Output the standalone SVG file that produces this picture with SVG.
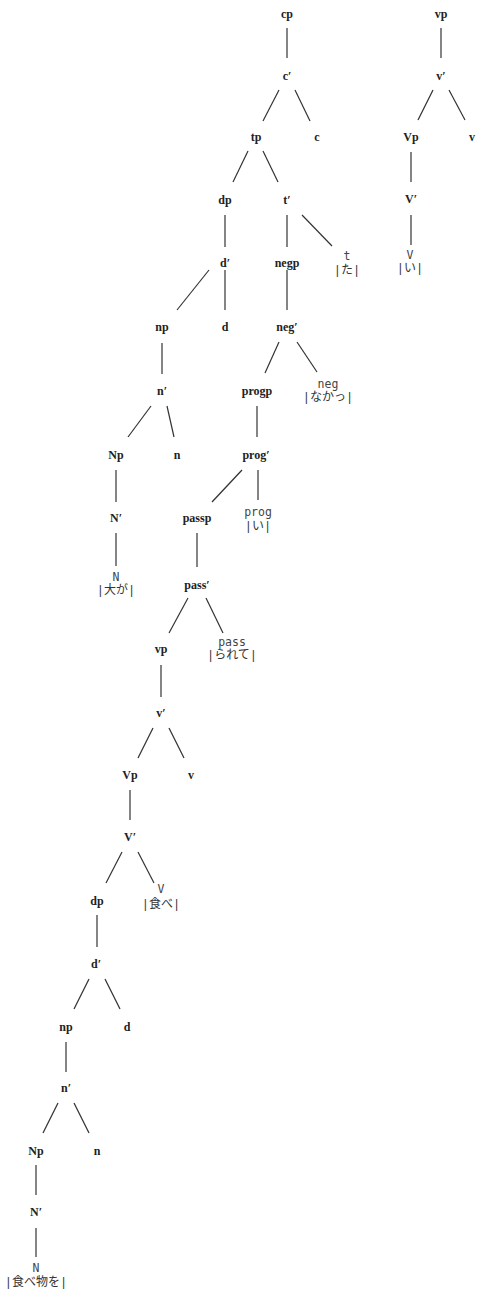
<svg xmlns="http://www.w3.org/2000/svg" width="481" height="1298" viewBox="0 0 481 1298">
<style>
.bg{fill:#ffffff}
.lbl{font-family:"Liberation Serif","Times New Roman",serif;font-size:12px;font-weight:bold;fill:#222;text-anchor:middle}
.lf{font-family:"DejaVu Sans Mono","Liberation Mono",monospace;font-size:11.5px;fill:#444;text-anchor:middle}
.jp{font-family:"Liberation Mono","Noto Sans CJK JP",monospace;font-size:12px;fill:#333;text-anchor:middle}
.edges line{stroke:#333;stroke-width:1.2}
</style>
<rect class="bg" x="0" y="0" width="481" height="1298"/>
<g id="connectors" class="edges">
<line x1="287" y1="28" x2="287" y2="58"/>
<line x1="279" y1="90" x2="263" y2="121"/>
<line x1="295" y1="90" x2="310" y2="121"/>
<line x1="248" y1="151" x2="233" y2="182"/>
<line x1="263" y1="151" x2="278" y2="182"/>
<line x1="225" y1="215" x2="225" y2="247"/>
<line x1="287" y1="215" x2="287" y2="247"/>
<line x1="302" y1="215" x2="332" y2="246"/>
<line x1="209" y1="270" x2="177" y2="310"/>
<line x1="225" y1="270" x2="225" y2="310"/>
<line x1="287" y1="270" x2="287" y2="310"/>
<line x1="162" y1="343" x2="162" y2="374"/>
<line x1="279" y1="342" x2="265" y2="373"/>
<line x1="297" y1="342" x2="317" y2="372"/>
<line x1="151" y1="406" x2="128" y2="437"/>
<line x1="167" y1="406" x2="174" y2="437"/>
<line x1="257" y1="406" x2="257" y2="437"/>
<line x1="242" y1="470" x2="212" y2="502"/>
<line x1="258" y1="470" x2="258" y2="500"/>
<line x1="116" y1="470" x2="116" y2="502"/>
<line x1="116" y1="533" x2="116" y2="566"/>
<line x1="197" y1="533" x2="197" y2="567"/>
<line x1="188" y1="598" x2="169" y2="633"/>
<line x1="206" y1="598" x2="223" y2="633"/>
<line x1="161" y1="665" x2="161" y2="697"/>
<line x1="153" y1="728" x2="138" y2="758"/>
<line x1="169" y1="728" x2="184" y2="758"/>
<line x1="130" y1="790" x2="130" y2="820"/>
<line x1="122" y1="852" x2="106" y2="883"/>
<line x1="138" y1="852" x2="154" y2="883"/>
<line x1="97" y1="915" x2="97" y2="947"/>
<line x1="89" y1="979" x2="74" y2="1009"/>
<line x1="105" y1="979" x2="120" y2="1009"/>
<line x1="66" y1="1042" x2="66" y2="1072"/>
<line x1="58" y1="1103" x2="43" y2="1133"/>
<line x1="74" y1="1103" x2="89" y2="1133"/>
<line x1="36" y1="1165" x2="36" y2="1195"/>
<line x1="36" y1="1228" x2="36" y2="1257"/>
<line x1="441" y1="28" x2="441" y2="58"/>
<line x1="433" y1="90" x2="418" y2="120"/>
<line x1="449" y1="90" x2="465" y2="120"/>
<line x1="411" y1="152" x2="411" y2="182"/>
<line x1="411" y1="215" x2="411" y2="245"/>
</g>
<g id="n_cp"><text class="lbl" x="287" y="18">cp</text></g>
<g id="n_c1"><text class="lbl" x="287" y="80">c′</text></g>
<g id="n_tp"><text class="lbl" x="256" y="141">tp</text></g>
<g id="n_c"><text class="lbl" x="317" y="141">c</text></g>
<g id="n_dp1"><text class="lbl" x="225" y="204">dp</text></g>
<g id="n_t1"><text class="lbl" x="287" y="204">t′</text></g>
<g id="n_d1"><text class="lbl" x="225" y="267">d′</text></g>
<g id="n_negp"><text class="lbl" x="287" y="267">negp</text></g>
<g id="n_t"><text class="lf" x="347" y="260">t</text><text class="jp" x="347" y="274">|た|</text></g>
<g id="n_np1"><text class="lbl" x="162" y="331">np</text></g>
<g id="n_d"><text class="lbl" x="225" y="331">d</text></g>
<g id="n_neg1"><text class="lbl" x="287" y="331">neg′</text></g>
<g id="n_n1"><text class="lbl" x="162" y="395">n′</text></g>
<g id="n_progp"><text class="lbl" x="257" y="395">progp</text></g>
<g id="n_neg"><text class="lf" x="328" y="388">neg</text><text class="jp" x="328" y="401">|なかっ|</text></g>
<g id="n_Np1"><text class="lbl" x="116" y="459">Np</text></g>
<g id="n_n"><text class="lbl" x="177" y="459">n</text></g>
<g id="n_prog1"><text class="lbl" x="256" y="459">prog′</text></g>
<g id="n_N1"><text class="lbl" x="116" y="522">N′</text></g>
<g id="n_passp"><text class="lbl" x="197" y="522">passp</text></g>
<g id="n_prog"><text class="lf" x="258" y="516">prog</text><text class="jp" x="258" y="530">|い|</text></g>
<g id="n_N"><text class="lf" x="116" y="581">N</text><text class="jp" x="116" y="594">|大が|</text></g>
<g id="n_pass1"><text class="lbl" x="197" y="589">pass′</text></g>
<g id="n_vp"><text class="lbl" x="161" y="653">vp</text></g>
<g id="n_pass"><text class="lf" x="232" y="646">pass</text><text class="jp" x="232" y="659">|られて|</text></g>
<g id="n_v1"><text class="lbl" x="161" y="717">v′</text></g>
<g id="n_Vp"><text class="lbl" x="130" y="779">Vp</text></g>
<g id="n_v"><text class="lbl" x="191" y="779">v</text></g>
<g id="n_V1"><text class="lbl" x="130" y="841">V′</text></g>
<g id="n_dp2"><text class="lbl" x="97" y="905">dp</text></g>
<g id="n_V"><text class="lf" x="161" y="893">V</text><text class="jp" x="161" y="908">|食べ|</text></g>
<g id="n_d2"><text class="lbl" x="96" y="968">d′</text></g>
<g id="n_np2"><text class="lbl" x="66" y="1031">np</text></g>
<g id="n_d3"><text class="lbl" x="127" y="1031">d</text></g>
<g id="n_n2"><text class="lbl" x="66" y="1092">n′</text></g>
<g id="n_Np2"><text class="lbl" x="36" y="1155">Np</text></g>
<g id="n_n3"><text class="lbl" x="97" y="1155">n</text></g>
<g id="n_N2"><text class="lbl" x="36" y="1216">N′</text></g>
<g id="n_N3"><text class="lf" x="36" y="1272">N</text><text class="jp" x="36" y="1286">|食べ物を|</text></g>
<g id="r_vp"><text class="lbl" x="441" y="18">vp</text></g>
<g id="r_v1"><text class="lbl" x="441" y="80">v′</text></g>
<g id="r_Vp"><text class="lbl" x="411" y="141">Vp</text></g>
<g id="r_v"><text class="lbl" x="472" y="141">v</text></g>
<g id="r_V1"><text class="lbl" x="411" y="203">V′</text></g>
<g id="r_V"><text class="lf" x="410" y="259">V</text><text class="jp" x="410" y="272">|い|</text></g>
</svg>
